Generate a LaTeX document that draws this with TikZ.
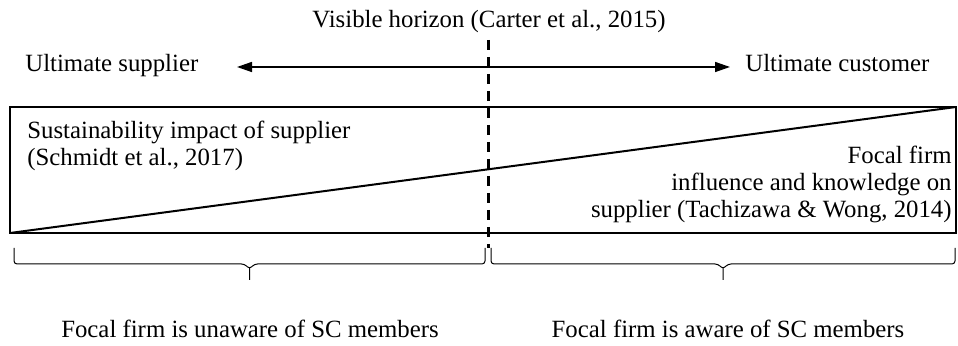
\documentclass[tikz,border=0pt]{standalone}
\usepackage{fontspec}
\setmainfont{Liberation Serif}
\usetikzlibrary{arrows.meta,calc}

\begin{document}
\begin{tikzpicture}[x=0.5pt,y=-0.5pt,
txt/.style={
% plain text, no frame:
inner sep=0pt,
font=\fontsize{12.4}{13.5}\selectfont
},
block/.style={
txt,
align=#1
},
flow/.style={
{Triangle[length=7.5pt,width=5pt]}-{Triangle[length=7.5pt,width=5pt]},
line width=0.75pt
},
horizon/.style={
line width=1.5pt,
dash pattern=on 5pt off 3.5pt
},
% flat brace hanging below its two end points
span/.style={
line width=0.5pt,
rounded corners=1.5pt,
to path={
-- ($(\tikztostart)+(0,16)$)
-- ($(\tikztostart)!.5!(\tikztotarget)+(-5,16)$)
-- ($(\tikztostart)!.5!(\tikztotarget)+(0,21)$)
-- ($(\tikztostart)!.5!(\tikztotarget)+(5,16)$)
-- ($(\tikztotarget)+(0,16)$)
-- (\tikztotarget)
($(\tikztostart)!.5!(\tikztotarget)+(0,20)$)
-- ($(\tikztostart)!.5!(\tikztotarget)+(0,32)$)
(\tikztotarget)
}
}
]
\useasboundingbox (0,0) rectangle (958,346);
% top row: horizon label and the two ends of the chain
\node (visible) [txt,anchor=base] at (489,28) {Visible horizon (Carter et al., 2015)};
\node (supplier) [txt,anchor=base west] at (25,72) {Ultimate supplier};
\node (customer) [txt,anchor=base west] at (745,72) {Ultimate customer};
\coordinate (upstream) at (237,67);
\coordinate (downstream) at (730,67);
\draw [flow] (upstream) -- (downstream);
% the chain box with its diagonal
\coordinate (sw) at (10,233);
\coordinate (ne) at (956,107);
\draw [line width=1pt] (sw) rectangle (ne);
\draw [line width=1pt] (sw) -- (ne);
\node (impact) [block=left,anchor=north west] at (27,121) {Sustainability impact of supplier\\(Schmidt et al., 2017)};
\node (influence) [block=right,anchor=north east] at (952,146) {Focal firm\\influence and knowledge on\\supplier (Tachizawa \& Wong, 2014)};
% visible horizon
\coordinate (hztop) at (488,40);
\coordinate (hzbot) at (488,248);
\draw [horizon] (hztop) -- (hzbot);
% braces and what they cover
\coordinate (l1) at (14,248);
\coordinate (l2) at (485,248);
\coordinate (r1) at (491,248);
\coordinate (r2) at (955,248);
\draw [span] (l1) to (l2);
\draw [span] (r1) to (r2);
\node (unaware) [txt,anchor=base] at (250,338) {Focal firm is unaware of SC members};
\node (aware) [txt,anchor=base] at (728,338) {Focal firm is aware of SC members};
\end{tikzpicture}
\end{document}
